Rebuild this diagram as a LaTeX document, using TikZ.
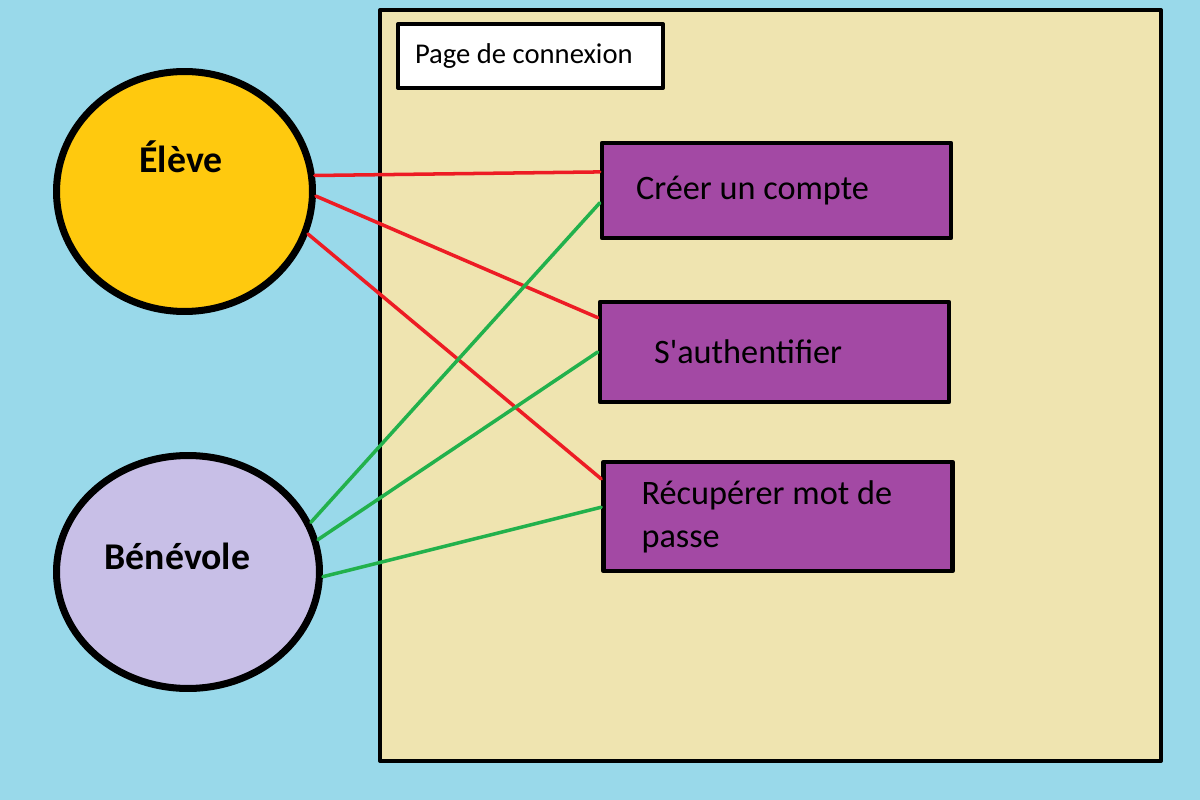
\documentclass[tikz,border=0pt]{standalone}
\usepackage{fontspec}
\setmainfont{Carlito}
\usetikzlibrary{shapes.geometric}
\definecolor{fond}{RGB}{153,217,234}
\definecolor{beige}{RGB}{239,228,176}
\definecolor{jaune}{RGB}{255,201,14}
\definecolor{lavande}{RGB}{200,191,231}
\definecolor{violet}{RGB}{163,73,164}
\definecolor{rouge}{RGB}{237,28,36}
\definecolor{vert}{RGB}{34,177,76}
\begin{document}
\begin{tikzpicture}[x=0.02cm, y=-0.02cm, line join=round, line cap=round,
	acteur/.style={ellipse, draw, line width=4pt, inner sep=0pt},
	nom/.style={font=\fontsize{21.5}{25}\selectfont\bfseries},
	cas/.style={draw, fill=violet, line width=2.6pt, minimum width=6.98cm, inner sep=0pt, align=flush left, font=\fontsize{19.5}{24.4}\selectfont},
	lienE/.style={rouge, line width=2pt},
	lienB/.style={vert, line width=2pt}]
	\useasboundingbox (0,0) rectangle (1200,800);
	\fill[fond] (0,0) rectangle (1200,800);
	\draw[fill=beige, line width=2.3pt] (380,10) rectangle (1161,761);
	\node[draw, fill=white, line width=2.3pt, anchor=north west, minimum width=5.3cm, minimum height=1.28cm, inner sep=0pt, text width=4.62cm, align=flush left, font=\fontsize{16.3}{19}\selectfont] (titre) at (396,22) {Page de connexion};
	% acteurs
	\node[acteur, fill=jaune, minimum width=5.12cm, minimum height=4.8cm] (eleve) at (184.5,191.5) {};
	\node[acteur, fill=lavande, minimum width=5.26cm, minimum height=4.66cm] (benevole) at (188,572) {};
	\node[nom] (televe) at (181,157) {Élève};
	\node[nom] (tbenevole) at (177.5,556) {Bénévole};
	% cas d'utilisation
	\node[cas, minimum height=1.9cm, text width=5.62cm] (creer) at (776.5,190.5) {Créer un compte};
	\node[cas, minimum height=2cm, text width=4.82cm] (auth) at (774.5,352) {S\textquotesingle authentifier};
	\node[cas, minimum height=2.18cm, text width=5.46cm] (recup) at (778,516.5) {Récupérer mot de\\passe};
	% liens
	\foreach \a/\b in {eleve.7.8/creer.174.9, eleve.-2.9/auth.169.9, eleve.-19.7/recup.168.8}
	\draw[lienE] (\a) -- (\b);
	\foreach \a/\b in {benevole.22.5/creer.184.7, benevole.14.4/auth.180.7, benevole.-2.6/recup.177.2}
	\draw[lienB] (\a) -- (\b);
\end{tikzpicture}
\end{document}
